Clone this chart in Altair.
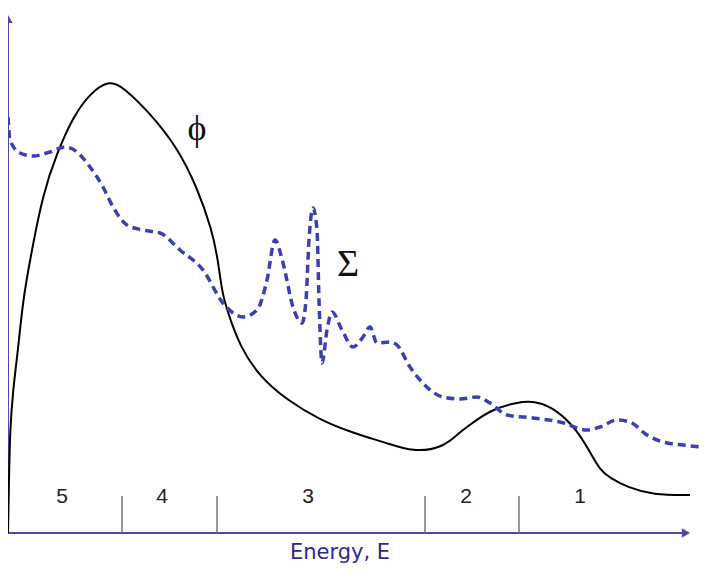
import altair as alt
import pandas as pd

# Flux (phi) curve: energy position and height above the energy axis
phi_x = [8, 9, 10, 13, 18, 23, 30, 43, 57, 73, 90, 110, 123, 150, 177, 197, 212, 218,
         222, 227, 240, 260, 287, 320, 353, 387, 413, 443, 460, 467, 490, 517, 537,
         557, 577, 590, 600, 610, 627, 653, 690]
phi_v = [0, 53, 103, 143, 183, 233, 273, 340, 380, 416, 440, 453, 446, 420, 386,
         346, 303, 273, 241, 223, 186, 156, 133, 113, 100, 90, 81, 85, 101, 106,
         123, 131, 132, 123, 103, 81, 63, 55, 46, 38, 38]

# Cross-section (Sigma) curve
sig_x = [8, 10, 20, 33, 50, 65, 77, 90, 103, 113, 127, 143, 160, 180, 203, 223, 243,
         257, 267, 275, 283, 293, 302, 306, 309, 313, 317, 319, 322, 327, 332, 342,
         353, 363, 370, 377, 390, 397, 410, 420, 443, 460, 477, 490, 507, 533, 560,
         587, 600, 617, 630, 647, 663, 683, 700]
sig_v = [416, 393, 380, 377, 381, 386, 381, 366, 346, 326, 308, 303, 300, 283, 263,
         230, 216, 223, 253, 293, 270, 226, 210, 233, 293, 325, 303, 233, 170, 203,
         221, 203, 186, 196, 206, 190, 191, 188, 166, 153, 136, 134, 136, 130, 118,
         115, 111, 103, 106, 113, 111, 98, 91, 88, 86]

# Energy groups
group_labels = ["5", "4", "3", "2", "1"]
group_centers = [62, 162, 308, 466, 580]
group_bounds = [122, 217, 425, 519]

AXIS_COLOR = "#4d49ac"
X_DOM = [8, 700]
Y_DOM = [-35, 525]

xs = alt.Scale(domain=X_DOM, nice=False, zero=False)
ys = alt.Scale(domain=Y_DOM, nice=False, zero=False)

phi_df = pd.DataFrame({"E": phi_x, "v": phi_v})
sig_df = pd.DataFrame({"E": sig_x, "v": sig_v})
grp_df = pd.DataFrame({"E": group_centers, "label": group_labels, "v": [36] * 5})
bnd_df = pd.DataFrame({"E": group_bounds, "v0": [0] * 4, "v1": [37] * 4})

phi = alt.Chart(phi_df).mark_line(color="black", strokeWidth=2, interpolate="basis").encode(
    x=alt.X("E:Q", scale=xs, axis=None), y=alt.Y("v:Q", scale=ys, axis=None))

sig = alt.Chart(sig_df).mark_line(color="#3a3fb2", strokeWidth=3.5, strokeDash=[8, 5],
                                  interpolate="monotone").encode(
    x=alt.X("E:Q", scale=xs, axis=None), y=alt.Y("v:Q", scale=ys, axis=None))

bounds = alt.Chart(bnd_df).mark_rule(color="#777777", strokeWidth=1.5).encode(
    x=alt.X("E:Q", scale=xs, axis=None), y=alt.Y("v0:Q", scale=ys, axis=None), y2="v1:Q")

glabels = alt.Chart(grp_df).mark_text(fontSize=21, font="Liberation Sans", color="#222222",
                                      baseline="middle", align="center").encode(
    x=alt.X("E:Q", scale=xs, axis=None), y=alt.Y("v:Q", scale=ys, axis=None), text="label:N")

axis_df = pd.DataFrame({"x0": [8, 8], "x1": [8, 684], "y0": [0, 0], "y1": [514, 0]})
axes = alt.Chart(axis_df).mark_rule(color=AXIS_COLOR, strokeWidth=2).encode(
    x=alt.X("x0:Q", scale=xs, axis=None), x2="x1:Q",
    y=alt.Y("y0:Q", scale=ys, axis=None), y2="y1:Q")

arrow_up = alt.Chart(pd.DataFrame({"x": [8], "y": [514]})).mark_point(
    shape="triangle-up", filled=True, size=90, color=AXIS_COLOR, opacity=1).encode(
    x=alt.X("x:Q", scale=xs, axis=None), y=alt.Y("y:Q", scale=ys, axis=None))
arrow_right = alt.Chart(pd.DataFrame({"x": [686], "y": [0]})).mark_point(
    shape="triangle-right", filled=True, size=90, color=AXIS_COLOR, opacity=1).encode(
    x=alt.X("x:Q", scale=xs, axis=None), y=alt.Y("y:Q", scale=ys, axis=None))

phi_lbl = alt.Chart(pd.DataFrame({"x": [197], "y": [404], "t": ["ϕ"]})).mark_text(
    fontSize=36, font="Liberation Serif", color="#111111", baseline="middle", align="center").encode(
    x=alt.X("x:Q", scale=xs, axis=None), y=alt.Y("y:Q", scale=ys, axis=None), text="t:N")
sig_lbl = alt.Chart(pd.DataFrame({"x": [348], "y": [268], "t": ["Σ"]})).mark_text(
    fontSize=38, font="Liberation Serif", color="#111111", baseline="middle", align="center").encode(
    x=alt.X("x:Q", scale=xs, axis=None), y=alt.Y("y:Q", scale=ys, axis=None), text="t:N")

xlabel = alt.Chart(pd.DataFrame({"x": [340], "y": [-20], "t": ["Energy, E"]})).mark_text(
    fontSize=21, font="DejaVu Sans", color="#2d2a8c", baseline="middle", align="center").encode(
    x=alt.X("x:Q", scale=xs, axis=None), y=alt.Y("y:Q", scale=ys, axis=None), text="t:N")

chart = alt.layer(axes, bounds, glabels, phi, sig, arrow_up, arrow_right, phi_lbl, sig_lbl,
                  xlabel).properties(
    width=692, height=560, autosize="none", padding=0
).configure_view(stroke=None)

chart.save("out.html", embed_options={"renderer": "svg", "actions": False})
